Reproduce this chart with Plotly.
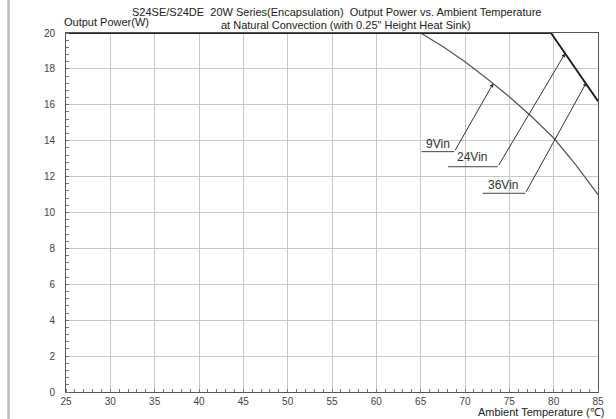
import plotly.graph_objects as go

# ---- data ----
temp_9vin = [25, 65, 67.5, 70, 72.5, 75, 77.5, 80, 82.5, 85]
power_9vin = [20, 20, 19.25, 18.4, 17.45, 16.45, 15.35, 14.15, 12.65, 11.0]
temp_24vin = [25, 79.7, 85]
power_24vin = [20, 20, 16.2]
temp_36vin = [25, 79.7, 85]
power_36vin = [20, 20, 16.2]

labels = ["9Vin", "24Vin", "36Vin"]
label_pos = [(66.9, 13.8), (70.8, 13.1), (74.3, 11.55)]
underline = [((65.1, 68.8), 13.39), ((68.1, 73.7), 12.55), ((72.0, 76.8), 11.07)]
marker_pt = [(73.2, 17.2), (81.3, 18.87), (83.7, 17.25)]

x_ticks = list(range(25, 90, 5))
y_ticks = list(range(0, 22, 2))

fig = go.Figure()
fig.add_trace(go.Scatter(x=temp_9vin, y=power_9vin, mode="lines",
                         line=dict(color="#555555", width=1.2), showlegend=False, hoverinfo="skip"))
fig.add_trace(go.Scatter(x=temp_24vin, y=power_24vin, mode="lines",
                         line=dict(color="#222222", width=1.8), showlegend=False, hoverinfo="skip"))
fig.add_trace(go.Scatter(x=temp_36vin, y=power_36vin, mode="lines",
                         line=dict(color="#222222", width=1.2), showlegend=False, hoverinfo="skip"))

shapes = []
annotations = []
for name, (tx, ty), ((u0, u1), uy), (mx, my) in zip(labels, label_pos, underline, marker_pt):
    shapes.append(dict(type="line", xref="x", yref="y", x0=u0, x1=u1, y0=uy, y1=uy,
                       line=dict(color="#444444", width=1)))
    annotations.append(dict(x=mx, y=my, ax=u1, ay=uy, axref="x", ayref="y", xref="x", yref="y",
                            text="", showarrow=True, arrowhead=2, arrowsize=0.8,
                            arrowwidth=1, arrowcolor="#333333"))
    annotations.append(dict(x=tx, y=ty, xref="x", yref="y", text=name, showarrow=False,
                            font=dict(family="Liberation Sans, Arial", size=12, color="#333333")))

# page frame line on the left
shapes.append(dict(type="line", xref="paper", yref="paper", x0=-0.108, x1=-0.108, y0=-0.2, y1=1.2,
                   line=dict(color="#bbbbbb", width=2.5)))

title_font = dict(family="Liberation Sans, Arial", size=11, color="#222222")
annotations += [
    dict(x=0.509, y=1.0585, xref="paper", yref="paper", showarrow=False, xanchor="center", yanchor="middle",
         text="S24SE/S24DE  20W Series(Encapsulation)  Output Power vs. Ambient Temperature", font=title_font),
    dict(x=0.526, y=1.022, xref="paper", yref="paper", showarrow=False, xanchor="center", yanchor="middle",
         text="at Natural Convection (with 0.25\" Height Heat Sink)", font=title_font),
    dict(x=-0.008, y=1.031, xref="paper", yref="paper", showarrow=False, xanchor="left", yanchor="middle",
         text="Output Power(W)", font=title_font),
    dict(x=1.015, y=-0.056, xref="paper", yref="paper", showarrow=False, xanchor="right", yanchor="middle",
         text="Ambient Temperature (℃)", font=title_font),
]

fig.update_layout(
    width=616, height=419,
    margin=dict(l=66, r=12, t=33, b=27),
    paper_bgcolor="white", plot_bgcolor="white",
    shapes=shapes, annotations=annotations,
    font=dict(family="Liberation Sans, Arial", size=10, color="#444444"),
)
fig.update_xaxes(range=[25, 85], tickvals=x_ticks, ticktext=[str(v) for v in x_ticks],
                 showgrid=True, gridcolor="#c8c8c8", gridwidth=1,
                 showline=True, linecolor="#555555", linewidth=1, mirror=True,
                 ticks="", zeroline=False,
                 minor=dict(dtick=1, ticks="inside", ticklen=3, tickcolor="#777777", showgrid=False),
                 tickfont=dict(size=10, color="#444444"))
fig.update_yaxes(range=[0, 20], tickvals=y_ticks, ticktext=[str(v) for v in y_ticks],
                 showgrid=True, gridcolor="#c8c8c8", gridwidth=1,
                 showline=True, linecolor="#555555", linewidth=1, mirror=True,
                 ticks="", zeroline=False,
                 minor=dict(dtick=0.4, ticks="inside", ticklen=3, tickcolor="#777777", showgrid=False),
                 tickfont=dict(size=10, color="#444444"), ticklabelstandoff=8)

fig.write_html("out.html", config={"displayModeBar": False},
               post_script="document.body.style.margin='0';document.body.style.overflow='hidden';")
